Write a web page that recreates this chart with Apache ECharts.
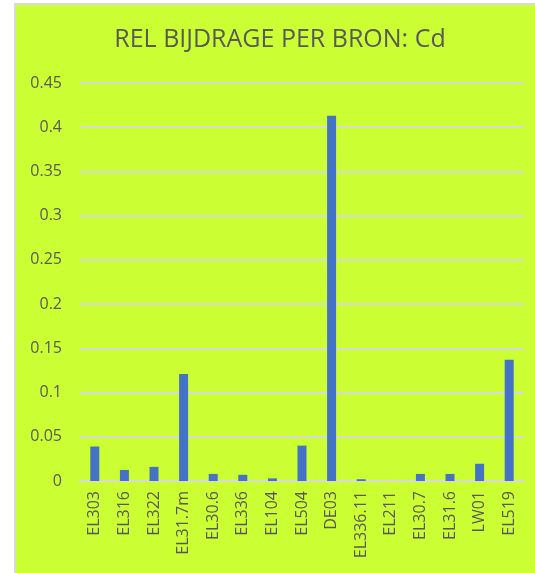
<!DOCTYPE html>
<html>
<head>
<meta charset="utf-8">
<script src="https://cdn.jsdelivr.net/npm/echarts@6/dist/echarts.min.js"></script>
<style>
  html, body { margin: 0; padding: 0; background: #ffffff; overflow: hidden; }
  #chart {
    position: absolute;
    left: 14px;
    top: 3px;
    width: 521px;
    height: 570px;
    border-left: 2px solid #d9d9d9;
    border-top: 2px solid #d9d9d9;
  }
</style>
</head>
<body>
<div id="chart"></div>
<script>
// bronnen en hun relatieve bijdrage
var categories = ['EL303', 'EL316', 'EL322', 'EL31.7m', 'EL30.6', 'EL336', 'EL104', 'EL504',
  'DE03', 'EL336.11', 'EL211', 'EL30.7', 'EL31.6', 'LW01', 'EL519'];
var values = [0.039, 0.0125, 0.016, 0.121, 0.008, 0.007, 0.003, 0.040,
  0.413, 0.002, 0, 0.008, 0.008, 0.0195, 0.137];
var yTicks = [0, 0.05, 0.1, 0.15, 0.2, 0.25, 0.3, 0.35, 0.4, 0.45];

var myChart = echarts.init(document.getElementById('chart'));

var option = {
  backgroundColor: '#ccff33',
  title: {
    text: 'REL BIJDRAGE PER BRON: Cd',
    left: 259,
    textAlign: 'center',
    top: 17,
    textStyle: {
      color: '#595959',
      fontFamily: 'Open Sans',
      fontWeight: 'normal',
      fontSize: 25
    }
  },
  grid: {
    left: 64,
    right: 13,
    top: 78,
    bottom: 94
  },
  xAxis: {
    type: 'category',
    data: categories,
    axisLine: { lineStyle: { color: '#d9d9d9', width: 2 } },
    axisTick: { show: false },
    axisLabel: {
      rotate: 90,
      interval: 0,
      margin: 10,
      color: '#595959',
      fontFamily: 'Open Sans',
      fontSize: 16
    }
  },
  yAxis: {
    type: 'value',
    min: yTicks[0],
    max: yTicks[yTicks.length - 1],
    interval: 0.05,
    axisLine: { show: false },
    axisTick: { show: false },
    axisLabel: {
      margin: 18,
      color: '#595959',
      fontFamily: 'Open Sans',
      fontSize: 16,
      formatter: function (v) { return String(Math.round(v * 100) / 100); }
    },
    splitLine: { lineStyle: { color: '#d9d9d9', width: 2 } }
  },
  series: [
    {
      type: 'bar',
      data: values,
      barWidth: 9,
      itemStyle: { color: '#4472c4' }
    }
  ]
};

myChart.setOption(option);
</script>
</body>
</html>
